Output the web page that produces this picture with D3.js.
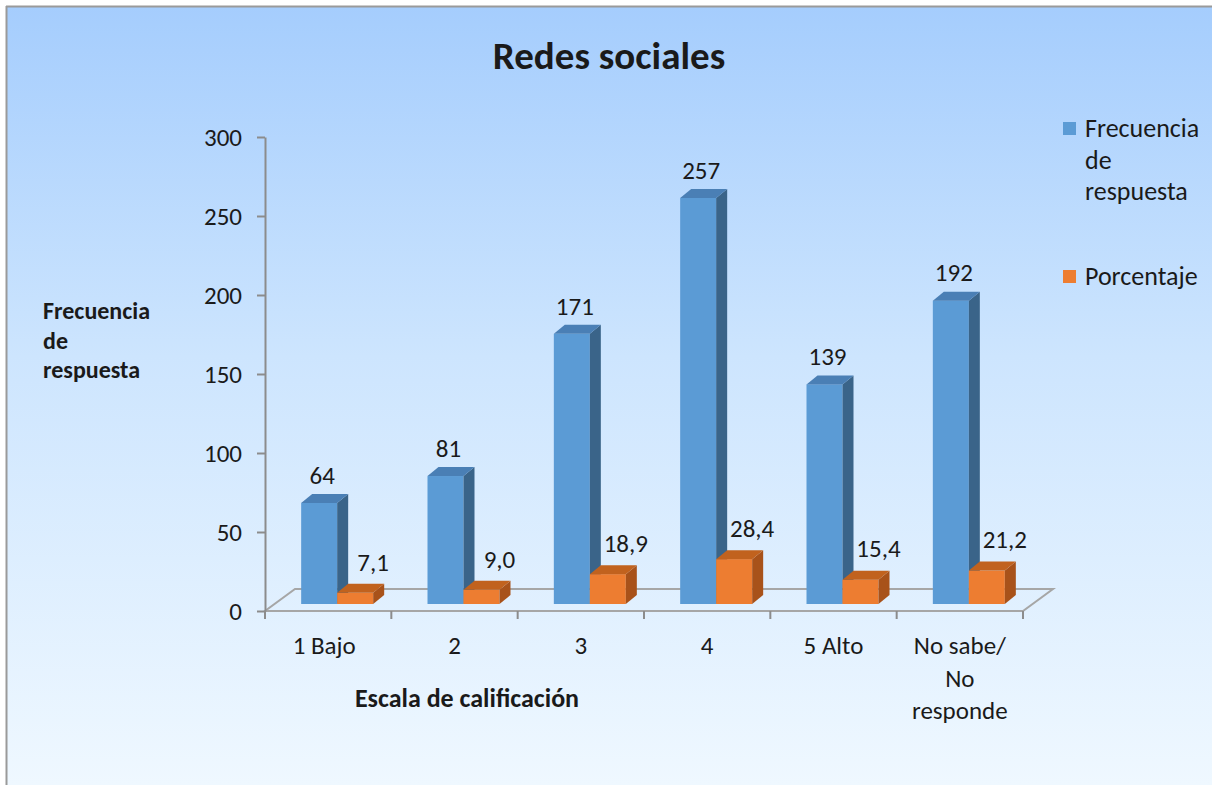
<!DOCTYPE html>
<html>
<head>
<meta charset="utf-8">
<script src="https://cdn.jsdelivr.net/npm/d3@7"></script>
<style>
  html, body { margin: 0; padding: 0; background: #fff; }
  svg text { font-family: Carlito, Lato, "Liberation Sans", sans-serif; fill: #1a1a1a; }
</style>
</head>
<body>
<div class="chart"></div>
<script>
// chart data
var categories = ["1 Bajo", "2", "3", "4", "5 Alto", "No sabe/ No responde"];
var frecuencia = [64, 81, 171, 257, 139, 192];
var porcentaje = [7.1, 9.0, 18.9, 28.4, 15.4, 21.2];
var yTicks = [0, 50, 100, 150, 200, 250, 300];
var seriesNames = ["Frecuencia de respuesta", "Porcentaje"];

var svgWidth = 1212;
var svgHeight = 785;
var fontSize = "25px";

var svg = d3.select(".chart")
  .append("svg")
  .attr("width", svgWidth)
  .attr("height", svgHeight);

// background gradient
var defs = svg.append("defs");
var grad = defs.append("linearGradient")
  .attr("id", "bg")
  .attr("x1", 0).attr("y1", 0).attr("x2", 0).attr("y2", 1);
grad.append("stop").attr("offset", "0%").attr("stop-color", "#a5cdfd");
grad.append("stop").attr("offset", "45%").attr("stop-color", "#cde5fe");
grad.append("stop").attr("offset", "100%").attr("stop-color", "#eff8ff");

svg.append("rect")
  .attr("x", 0).attr("y", 0)
  .attr("width", svgWidth).attr("height", svgHeight)
  .attr("fill", "#ffffff");

svg.append("rect")
  .attr("x", 7).attr("y", 7)
  .attr("width", svgWidth - 7).attr("height", svgHeight - 7)
  .attr("fill", "url(#bg)");

// border (top + left only visible)
svg.append("line").attr("x1", 6).attr("y1", 6.5).attr("x2", svgWidth).attr("y2", 6.5)
  .attr("stroke", "#9a9a9a").attr("stroke-width", 2);
svg.append("line").attr("x1", 6.5).attr("y1", 6).attr("x2", 6.5).attr("y2", svgHeight)
  .attr("stroke", "#9a9a9a").attr("stroke-width", 2);

// scales
var x = d3.scaleBand()
  .domain(categories)
  .range([265, 1023]);

var y = d3.scaleLinear()
  .domain([0, 300])
  .range([611, 137]);

// 3D offsets
var floorDx = 30, floorDy = -22;   // floor depth
var barDx = 9, barDy = -7;         // where the bars sit in the depth
var sideDx = 11, sideDy = -9;      // bar depth
var barW = 36;

// floor
var x0 = x.range()[0], x1 = x.range()[1], yb = y(0);
svg.append("path")
  .attr("d", `M${x0},${yb} L${x1},${yb} L${x1 + floorDx},${yb + floorDy} L${x0 + floorDx},${yb + floorDy} Z`)
  .attr("fill", "none")
  .attr("stroke", "#a6a6a6")
  .attr("stroke-width", 2);

// y axis
var leftAxis = d3.axisLeft(y)
  .tickValues(yTicks)
  .tickSize(8)
  .tickSizeOuter(0)
  .tickPadding(15);

var yAxis = svg.append("g")
  .attr("transform", `translate(${x0}, 0)`)
  .call(leftAxis);
yAxis.select(".domain").attr("stroke", "#8c8c8c").attr("stroke-width", 2);
yAxis.selectAll(".tick line").attr("stroke", "#8c8c8c").attr("stroke-width", 2);
yAxis.selectAll(".tick text")
  .style("font-size", fontSize)
  .style("font-family", "Carlito, Lato, sans-serif")
  .attr("fill", "#1a1a1a");

// x axis ticks at category boundaries
var boundaries = categories.map(d => x(d)).concat([x1]);
svg.selectAll(".xtick")
  .data(boundaries)
  .enter()
  .append("line")
  .attr("x1", d => d).attr("x2", d => d)
  .attr("y1", yb).attr("y2", yb + 8)
  .attr("stroke", "#8c8c8c")
  .attr("stroke-width", 2);

// category labels
var catLabels = svg.selectAll(".cat")
  .data(categories)
  .enter()
  .append("text")
  .attr("text-anchor", "middle")
  .style("font-size", fontSize);
catLabels.each(function(d) {
  var parts = d === "No sabe/ No responde" ? ["No sabe/", "No", "responde"] : [d];
  var t = d3.select(this);
  parts.forEach(function(p, i) {
    t.append("tspan")
      .attr("x", x(d) + x.bandwidth() / 2 - (d === "1 Bajo" ? 4 : 0))
      .attr("y", 654 + i * 32.5)
      .text(p);
  });
});

// bars
function drawBar(g, xLeft, value, colors) {
  var top = y(value) + barDy;
  var bottom = y(0) + barDy;
  var l = xLeft + barDx, r = l + barW;
  // front face
  g.append("rect")
    .attr("x", l).attr("y", top)
    .attr("width", barW).attr("height", bottom - top)
    .attr("fill", colors[0]);
  // side face
  g.append("path")
    .attr("d", `M${r},${top} L${r + sideDx},${top + sideDy} L${r + sideDx},${bottom + sideDy} L${r},${bottom} Z`)
    .attr("fill", colors[2]);
  // top face
  g.append("path")
    .attr("d", `M${l},${top} L${l + sideDx},${top + sideDy} L${r + sideDx},${top + sideDy} L${r},${top} Z`)
    .attr("fill", colors[1]);
  return { cx: l + barW / 2, top: top };
}

var blueColors = ["#5b9bd5", "#4a7fb5", "#3a6489"];
var orangeColors = ["#ed7d31", "#c1621e", "#a8521a"];

var bars = svg.append("g");
categories.forEach(function(c, i) {
  var center = x(c) + x.bandwidth() / 2;
  var b = drawBar(bars, center - barW, frecuencia[i], blueColors);
  var o = drawBar(bars, center, porcentaje[i], orangeColors);

  svg.append("text")
    .attr("x", b.cx + 3)
    .attr("y", b.top - 28)
    .attr("dy", "0.35em")
    .attr("text-anchor", "middle")
    .style("font-size", fontSize)
    .text(frecuencia[i]);

  svg.append("text")
    .attr("x", o.cx + 18)
    .attr("y", o.top - 31)
    .attr("dy", "0.35em")
    .attr("text-anchor", "middle")
    .style("font-size", fontSize)
    .text(d3.format(".1f")(porcentaje[i]).replace(".", ","));
});

// title
svg.append("text")
  .attr("x", 609)
  .attr("y", 55)
  .attr("dy", "0.35em")
  .attr("text-anchor", "middle")
  .style("font-size", "39px")
  .style("font-weight", "bold")
  .text("Redes sociales");

// x axis title
svg.append("text")
  .attr("x", 467)
  .attr("y", 698)
  .attr("dy", "0.35em")
  .attr("text-anchor", "middle")
  .style("font-size", "26px")
  .style("font-weight", "bold")
  .text("Escala de calificación");

// y axis title
var yTitle = svg.append("text")
  .style("font-size", "24px")
  .style("font-weight", "bold");
["Frecuencia", "de", "respuesta"].forEach(function(p, i) {
  yTitle.append("tspan")
    .attr("x", 43)
    .attr("y", 319 + i * 29.5)
    .text(p);
});

// legend
var legendColors = ["#5b9bd5", "#ed7d31"];
var legendLines = [["Frecuencia", "de", "respuesta"], ["Porcentaje"]];
var legendY = [129, 277];
seriesNames.forEach(function(s, i) {
  svg.append("rect")
    .attr("x", 1063).attr("y", legendY[i] - 7)
    .attr("width", 13).attr("height", 13)
    .attr("fill", legendColors[i]);
  var t = svg.append("text").style("font-size", "26px");
  legendLines[i].forEach(function(p, j) {
    t.append("tspan")
      .attr("x", 1085)
      .attr("y", legendY[i] + 8 + j * 31.5)
      .text(p);
  });
});
</script>
</body>
</html>
